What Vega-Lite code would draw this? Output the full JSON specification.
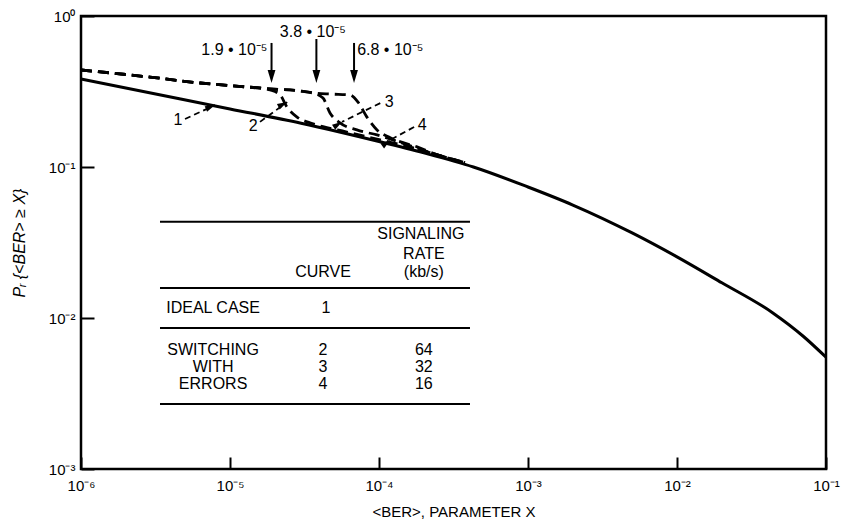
{
  "$schema": "https://vega.github.io/schema/vega-lite/v6.json",
  "width": 745,
  "height": 453,
  "autosize": {"type": "none"},
  "padding": {"left": 81, "top": 16, "right": 15, "bottom": 56},
  "background": "white",
  "config": {
    "font": "Liberation Sans",
    "view": {"stroke": "black", "strokeWidth": 2.5},
    "axis": {
      "domain": false,
      "grid": false,
      "ticks": true,
      "tickColor": "black",
      "tickWidth": 2,
      "tickOpacity": 1,
      "labelColor": "black",
      "titleColor": "black",
      "labelFont": "Liberation Sans",
      "titleFont": "Liberation Sans",
      "labelFontSize": 15,
      "titleFontSize": 15,
      "titleFontWeight": "normal",
      "zindex": 1
    }
  },
  "datasets": {
    "ideal": [
      {"x": 1e-6, "y": 0.383},
      {"x": 1e-5, "y": 0.2425},
      {"x": 3e-5, "y": 0.195},
      {"x": 1e-4, "y": 0.1475},
      {"x": 2e-4, "y": 0.124},
      {"x": 4.3e-4, "y": 0.1},
      {"x": 1e-3, "y": 0.0737},
      {"x": 2e-3, "y": 0.056},
      {"x": 5e-3, "y": 0.0366},
      {"x": 1e-2, "y": 0.0254},
      {"x": 2e-2, "y": 0.0171},
      {"x": 4.4e-2, "y": 0.0108},
      {"x": 7e-2, "y": 0.0076},
      {"x": 0.1, "y": 0.0055}
    ],
    "switching": [
      {"curve": "2", "x": 1e-6, "y": 0.439},
      {"curve": "2", "x": 2.9e-6, "y": 0.394},
      {"curve": "2", "x": 6.3e-6, "y": 0.36},
      {"curve": "2", "x": 1.2e-5, "y": 0.341},
      {"curve": "2", "x": 1.7e-5, "y": 0.331},
      {"curve": "2", "x": 1.86e-5, "y": 0.324},
      {"curve": "2", "x": 2.17e-5, "y": 0.3},
      {"curve": "2", "x": 2.41e-5, "y": 0.25},
      {"curve": "2", "x": 2.82e-5, "y": 0.214},
      {"curve": "2", "x": 3.44e-5, "y": 0.196},
      {"curve": "2", "x": 4.21e-5, "y": 0.185},
      {"curve": "2", "x": 6e-5, "y": 0.171},
      {"curve": "2", "x": 1.02e-4, "y": 0.151},
      {"curve": "2", "x": 1.7e-4, "y": 0.134},
      {"curve": "2", "x": 2.56e-4, "y": 0.119},
      {"curve": "2", "x": 3.78e-4, "y": 0.107},

      {"curve": "3", "x": 1e-6, "y": 0.439},
      {"curve": "3", "x": 2.9e-6, "y": 0.394},
      {"curve": "3", "x": 6.3e-6, "y": 0.36},
      {"curve": "3", "x": 1.2e-5, "y": 0.341},
      {"curve": "3", "x": 1.86e-5, "y": 0.329},
      {"curve": "3", "x": 2.95e-5, "y": 0.319},
      {"curve": "3", "x": 3.61e-5, "y": 0.309},
      {"curve": "3", "x": 4.21e-5, "y": 0.286},
      {"curve": "3", "x": 4.69e-5, "y": 0.228},
      {"curve": "3", "x": 5.47e-5, "y": 0.196},
      {"curve": "3", "x": 7.11e-5, "y": 0.176},
      {"curve": "3", "x": 9.7e-5, "y": 0.163},
      {"curve": "3", "x": 1.7e-4, "y": 0.136},
      {"curve": "3", "x": 2.56e-4, "y": 0.119},
      {"curve": "3", "x": 3.78e-4, "y": 0.107},

      {"curve": "4", "x": 1e-6, "y": 0.439},
      {"curve": "4", "x": 2.9e-6, "y": 0.394},
      {"curve": "4", "x": 6.3e-6, "y": 0.36},
      {"curve": "4", "x": 1.2e-5, "y": 0.341},
      {"curve": "4", "x": 1.86e-5, "y": 0.329},
      {"curve": "4", "x": 2.95e-5, "y": 0.319},
      {"curve": "4", "x": 3.61e-5, "y": 0.309},
      {"curve": "4", "x": 4.8e-5, "y": 0.304},
      {"curve": "4", "x": 6.38e-5, "y": 0.3},
      {"curve": "4", "x": 7.23e-5, "y": 0.269},
      {"curve": "4", "x": 8.3e-5, "y": 0.214},
      {"curve": "4", "x": 9.7e-5, "y": 0.176},
      {"curve": "4", "x": 1.19e-4, "y": 0.156},
      {"curve": "4", "x": 1.8e-4, "y": 0.136},
      {"curve": "4", "x": 2.56e-4, "y": 0.119},
      {"curve": "4", "x": 3.78e-4, "y": 0.107}
    ],
    "thresholds": [
      {"rate": "1.9 • 10⁻⁵", "x": 1.9e-5, "top": 0.663, "end": 0.426, "tip": 0.36, "lx": 1.07e-5, "ly": 0.552},
      {"rate": "3.8 • 10⁻⁵", "x": 3.8e-5, "top": 0.704, "end": 0.426, "tip": 0.36, "lx": 3.6e-5, "ly": 0.721},
      {"rate": "6.8 • 10⁻⁵", "x": 6.8e-5, "top": 0.663, "end": 0.426, "tip": 0.36, "lx": 1.19e-4, "ly": 0.552}
    ],
    "callouts": [
      {"n": "1", "tx": 4.48e-6, "ty": 0.205, "x": 4.99e-6, "y": 0.208, "x2": 7.94e-6, "y2": 0.257},
      {"n": "2", "tx": 1.43e-5, "ty": 0.187, "x": 1.59e-5, "y": 0.199, "x2": 2.42e-5, "y2": 0.269},
      {"n": "3", "tx": 1.17e-4, "ty": 0.269, "x": 1.02e-4, "y": 0.265, "x2": 5.65e-5, "y2": 0.199},
      {"n": "4", "tx": 1.95e-4, "ty": 0.19, "x": 1.72e-4, "y": 0.184, "x2": 1.19e-4, "y2": 0.151}
    ],
    "tableRules": [
      {"x": 3.39e-6, "x2": 4.08e-4, "y": 0.0434},
      {"x": 3.39e-6, "x2": 4.08e-4, "y": 0.0158},
      {"x": 3.39e-6, "x2": 4.08e-4, "y": 0.00859},
      {"x": 3.39e-6, "x2": 4.08e-4, "y": 0.00269}
    ],
    "tableText": [
      {"label": "SIGNALING", "x": 1.91e-4, "y": 0.036},
      {"label": "RATE", "x": 2.0e-4, "y": 0.0265},
      {"label": "(kb/s)", "x": 2.0e-4, "y": 0.0203},
      {"label": "CURVE", "x": 4.21e-5, "y": 0.0202},
      {"label": "IDEAL CASE", "x": 7.7e-6, "y": 0.01165},
      {"label": "1", "x": 4.4e-5, "y": 0.01165},
      {"label": "SWITCHING", "x": 7.7e-6, "y": 0.0061},
      {"label": "WITH", "x": 7.7e-6, "y": 0.00473},
      {"label": "ERRORS", "x": 7.7e-6, "y": 0.00368},
      {"label": "2", "x": 4.21e-5, "y": 0.0061},
      {"label": "3", "x": 4.21e-5, "y": 0.00473},
      {"label": "4", "x": 4.21e-5, "y": 0.00368},
      {"label": "64", "x": 2.0e-4, "y": 0.0061},
      {"label": "32", "x": 2.0e-4, "y": 0.00473},
      {"label": "16", "x": 2.0e-4, "y": 0.00368}
    ]
  },
  "layer": [
    {
      "data": {"name": "ideal"},
      "mark": {"type": "line", "color": "black", "strokeWidth": 3, "interpolate": "monotone"},
      "encoding": {
        "x": {
          "field": "x", "type": "quantitative",
          "scale": {"type": "log", "domain": [1e-6, 0.1]},
          "axis": {
            "values": [1e-6, 1e-5, 1e-4, 1e-3, 1e-2, 1e-1],
            "offset": -12,
            "tickSize": 12,
            "labelPadding": 9,
            "labelFlush": false,
            "labelExpr": "'10' + (round(log(datum.value)/LN10) < 0 ? '⁻' : '') + ['⁰','¹','²','³','⁴','⁵','⁶'][abs(round(log(datum.value)/LN10))]",
            "title": "<BER>, PARAMETER X",
            "titlePadding": 11
          }
        },
        "y": {
          "field": "y", "type": "quantitative",
          "scale": {"type": "log", "domain": [0.001, 1]},
          "axis": {
            "values": [0.001, 0.01, 0.1, 1],
            "offset": -13,
            "tickSize": 13,
            "labelPadding": 6,
            "labelFlush": false,
            "labelExpr": "'10' + (round(log(datum.value)/LN10) < 0 ? '⁻' : '') + ['⁰','¹','²','³','⁴','⁵','⁶'][abs(round(log(datum.value)/LN10))]",
            "title": "Pᵣ {<BER> ≥ X}",
            "titleFontStyle": "italic",
            "titleFontSize": 16,
            "titlePadding": 21
          }
        }
      }
    },
    {
      "data": {"name": "switching"},
      "mark": {"type": "line", "color": "black", "strokeWidth": 2.8, "strokeDash": [11, 6], "interpolate": "monotone"},
      "encoding": {
        "x": {"field": "x", "type": "quantitative", "scale": {"type": "log", "domain": [1e-6, 0.1]}},
        "y": {"field": "y", "type": "quantitative", "scale": {"type": "log", "domain": [0.001, 1]}},
        "detail": {"field": "curve", "type": "nominal"}
      }
    },
    {
      "data": {"name": "thresholds"},
      "mark": {"type": "rule", "color": "black", "strokeWidth": 2},
      "encoding": {
        "x": {"field": "x", "type": "quantitative", "scale": {"type": "log", "domain": [1e-6, 0.1]}},
        "y": {"field": "top", "type": "quantitative", "scale": {"type": "log", "domain": [0.001, 1]}},
        "y2": {"field": "end"}
      }
    },
    {
      "data": {"name": "thresholds"},
      "mark": {"type": "point", "shape": "M0,0L-2,-0.6L-2,0.6Z", "filled": true, "color": "black", "opacity": 1, "size": 169, "angle": 90},
      "encoding": {
        "x": {"field": "x", "type": "quantitative", "scale": {"type": "log", "domain": [1e-6, 0.1]}},
        "y": {"field": "tip", "type": "quantitative", "scale": {"type": "log", "domain": [0.001, 1]}}
      }
    },
    {
      "data": {"name": "thresholds"},
      "mark": {"type": "text", "color": "black", "fontSize": 16, "align": "center", "baseline": "alphabetic"},
      "encoding": {
        "x": {"field": "lx", "type": "quantitative", "scale": {"type": "log", "domain": [1e-6, 0.1]}},
        "y": {"field": "ly", "type": "quantitative", "scale": {"type": "log", "domain": [0.001, 1]}},
        "text": {"field": "rate"}
      }
    },
    {
      "data": {"name": "callouts"},
      "mark": {"type": "rule", "color": "black", "strokeWidth": 1.8, "strokeDash": [6, 4]},
      "encoding": {
        "x": {"field": "x", "type": "quantitative", "scale": {"type": "log", "domain": [1e-6, 0.1]}},
        "y": {"field": "y", "type": "quantitative", "scale": {"type": "log", "domain": [0.001, 1]}},
        "x2": {"field": "x2"},
        "y2": {"field": "y2"}
      }
    },
    {
      "data": {"name": "callouts"},
      "mark": {"type": "point", "shape": "M0,0L-2,-0.6L-2,0.6Z", "filled": true, "color": "black", "opacity": 1, "size": 100},
      "encoding": {
        "x": {"field": "x2", "type": "quantitative", "scale": {"type": "log", "domain": [1e-6, 0.1]}},
        "y": {"field": "y2", "type": "quantitative", "scale": {"type": "log", "domain": [0.001, 1]}},
        "angle": {
          "field": "n", "type": "nominal",
          "scale": {"domain": ["1", "2", "3", "4"], "range": [337, 323, 153, 152]},
          "legend": null
        }
      }
    },
    {
      "data": {"name": "callouts"},
      "mark": {"type": "text", "color": "black", "fontSize": 16, "align": "center", "baseline": "middle"},
      "encoding": {
        "x": {"field": "tx", "type": "quantitative", "scale": {"type": "log", "domain": [1e-6, 0.1]}},
        "y": {"field": "ty", "type": "quantitative", "scale": {"type": "log", "domain": [0.001, 1]}},
        "text": {"field": "n"}
      }
    },
    {
      "data": {"name": "tableRules"},
      "mark": {"type": "rule", "color": "black", "strokeWidth": 2},
      "encoding": {
        "x": {"field": "x", "type": "quantitative", "scale": {"type": "log", "domain": [1e-6, 0.1]}},
        "x2": {"field": "x2"},
        "y": {"field": "y", "type": "quantitative", "scale": {"type": "log", "domain": [0.001, 1]}}
      }
    },
    {
      "data": {"name": "tableText"},
      "mark": {"type": "text", "color": "black", "fontSize": 16, "align": "center", "baseline": "middle"},
      "encoding": {
        "x": {"field": "x", "type": "quantitative", "scale": {"type": "log", "domain": [1e-6, 0.1]}},
        "y": {"field": "y", "type": "quantitative", "scale": {"type": "log", "domain": [0.001, 1]}},
        "text": {"field": "label"}
      }
    }
  ]
}
